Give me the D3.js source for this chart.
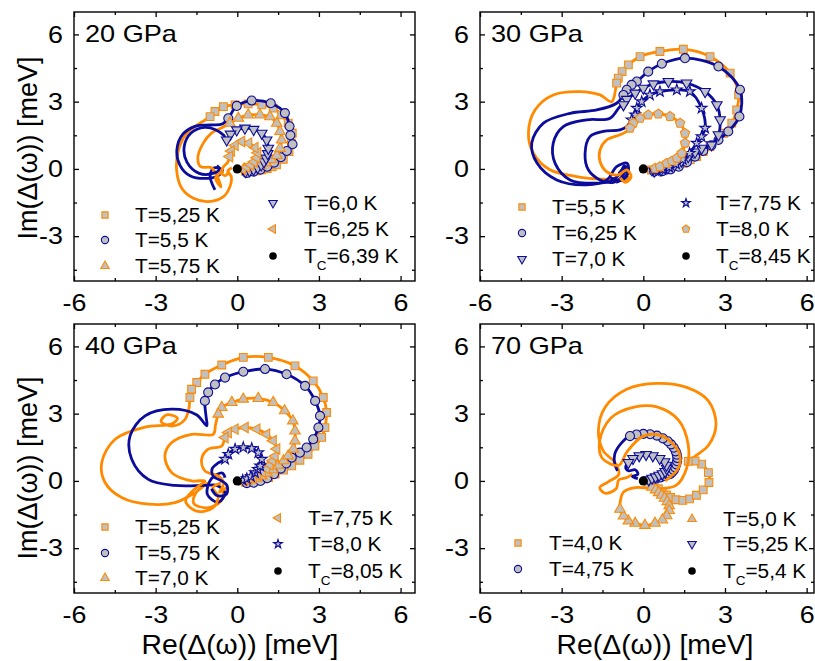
<!DOCTYPE html>
<html>
<head>
<meta charset="utf-8">
<script src="https://cdn.jsdelivr.net/npm/d3@7"></script>
<style>
  body { margin: 0; background: #fff; }
  svg { display: block; }
  text { font-family: "Liberation Sans", Arial, sans-serif; fill: #000; }
</style>
</head>
<body>
<div id="chart"></div>
<script>
// ---- data (Re, Im of the gap function, meV) ----
const xTicks = [-6, -3, 0, 3, 6];
const yTicks = [-3, 0, 3, 6];
const xMinor = [-4.5, -1.5, 1.5, 4.5];
const yMinor = [-4.5, -1.5, 1.5, 4.5];
const pressures = ["20 GPa", "30 GPa", "40 GPa", "70 GPa"];
const tcTemps = ["6,39 K", "8,45 K", "8,05 K", "5,4 K"];
const tcPoint = [0, 0];

// 20 GPa
const g20_525_marks = [[0.3,-0.1],[0.5,-0.1],[0.7,-0.08],[0.9,-0.04],[1.1,0.02],[1.28,0.09],[1.44,0.18],[1.69,0.43],[1.9,0.77],[1.99,1.15],[2.02,1.59],[1.87,2.04],[1.63,2.41],[1.32,2.71],[0.9,2.86],[0.4,2.9],[-0.08,2.86],[-0.51,2.78],[-0.82,2.56],[-1.0,2.33]];
const g20_525_tail = [[-1.37,2.04],[-1.86,1.59],[-2.16,0.85],[-2.23,-0.04],[-2.04,-0.86],[-1.61,-1.31],[-1.07,-1.46],[-0.51,-1.24],[-0.27,-0.79],[-0.22,-0.35],[-0.35,-0.1],[-0.2,0.05]];
const g20_55_marks = [[0.35,-0.18],[0.6,-0.12],[0.85,-0.03],[1.1,0.1],[1.35,0.28],[1.6,0.52],[1.82,0.8],[2.03,1.1],[1.95,1.5],[1.92,1.9],[1.75,2.49],[1.23,2.93],[0.53,3.05],[-0.02,2.81],[-0.33,2.26]];
const g20_55_tail = [[-0.55,2.0],[-1.0,1.96],[-1.55,1.9],[-2.0,1.55],[-2.22,0.85],[-2.1,0.15],[-1.74,-0.3],[-1.12,-0.42],[-0.7,-0.3],[-0.55,-0.05],[-0.85,0.05],[-1.0,-0.3],[-0.82,-0.94]];
const g20_575_marks = [[0.25,0.0],[0.45,0.03],[0.65,0.08],[0.85,0.16],[1.05,0.27],[1.25,0.42],[1.45,0.6],[1.57,0.92],[1.63,1.29],[1.57,1.67],[1.45,2.04],[1.2,2.33],[0.83,2.41],[0.4,2.41],[0.04,2.26],[-0.27,2.04]];
const g20_575_tail = [[-0.55,1.85],[-0.95,1.6],[-1.25,1.15],[-1.45,0.5],[-1.35,0.1],[-0.95,0.05],[-0.75,-0.3],[-0.6,-0.8],[-0.8,-0.4],[-0.5,-0.1]];
const g20_60_marks = [[0.3,-0.12],[0.45,-0.08],[0.6,-0.02],[0.75,0.07],[0.88,0.18],[0.98,0.32],[1.06,0.48],[1.12,0.68],[1.14,0.92],[1.08,1.29],[0.9,1.59],[0.6,1.76],[0.28,1.82],[-0.02,1.74],[-0.25,1.55],[-0.39,1.29]];
const g20_60_tail = [[-0.5,1.5],[-0.8,1.75],[-1.2,1.85],[-1.7,1.6],[-1.95,1.0],[-1.85,0.3],[-1.4,-0.2],[-0.9,-0.2],[-0.65,0.0],[-0.75,0.15]];
const g20_625_marks = [[0.2,0.0],[0.35,0.08],[0.5,0.18],[0.62,0.32],[0.72,0.5],[0.75,0.72],[0.65,0.95],[0.42,1.15],[0.16,1.22],[-0.08,1.05],[-0.22,0.8],[-0.28,0.55]];
const g20_625_tail = [[-0.35,0.3],[-0.5,0.1],[-0.6,-0.15],[-0.45,-0.3],[-0.3,-0.1]];

// 30 GPa
const g30_55_marks = [[0.3,-0.05],[0.49,-0.04],[0.73,0.0],[0.98,0.03],[1.22,0.12],[1.47,0.25],[1.72,0.4],[1.96,0.55],[2.2,0.77],[2.45,1.0],[2.94,1.59],[3.25,2.04],[3.43,2.63],[3.5,3.3],[3.19,4.27],[2.45,5.01],[1.47,5.34],[0.61,5.24],[-0.12,5.01],[-0.55,4.64],[-0.78,4.34],[-0.92,4.05],[-0.98,3.83]];
const g30_55_tail = [[-1.16,3.0],[-1.59,3.3],[-2.33,3.45],[-3.31,3.3],[-3.98,2.63],[-4.22,1.59],[-4.04,0.7],[-3.43,-0.04],[-2.45,-0.34],[-1.47,-0.46],[-0.85,-0.45],[-0.55,-0.2],[-0.6,0.1],[-0.8,-0.1],[-0.7,-0.55],[-0.5,-0.35]];
const g30_625_marks = [[0.4,-0.12],[0.7,-0.1],[1.0,-0.02],[1.3,0.1],[1.6,0.3],[1.9,0.55],[2.2,0.8],[2.5,1.05],[2.76,1.29],[3.12,1.67],[3.53,2.34],[3.55,3.53],[2.76,4.57],[1.53,4.94],[0.68,4.69],[0.18,4.34],[-0.24,3.9],[-0.43,3.75],[-0.61,3.53],[-0.73,3.3]];
const g30_625_tail = [[-0.98,2.93],[-1.71,2.63],[-2.69,2.48],[-3.67,2.04],[-4.1,1.15],[-3.9,0.25],[-3.18,-0.49],[-2.08,-0.71],[-1.35,-0.5],[-0.98,0.1],[-0.6,0.25],[-0.55,-0.1],[-0.8,-0.5],[-1.2,-0.4]];
const g30_70_marks = [[0.4,-0.1],[0.65,-0.05],[0.9,0.05],[1.15,0.18],[1.4,0.35],[1.65,0.55],[1.9,0.75],[2.14,0.92],[2.51,1.07],[2.76,1.52],[2.82,2.19],[2.7,2.86],[2.27,3.45],[1.59,3.83],[0.92,3.9],[0.37,3.79],[0.0,3.6],[-0.3,3.38],[-0.61,3.1],[-0.73,2.86]];
const g30_70_tail = [[-0.86,2.78],[-1.22,2.26],[-2.08,2.19],[-2.94,1.89],[-3.31,1.15],[-3.24,0.25],[-2.69,-0.49],[-1.77,-0.64],[-1.22,-0.55],[-0.85,-0.2],[-0.7,0.15],[-0.6,-0.3],[-1.0,-0.6]];
const g30_775_marks = [[0.45,-0.08],[0.7,-0.02],[0.95,0.08],[1.2,0.22],[1.45,0.42],[1.7,0.7],[1.96,1.15],[2.14,1.44],[2.27,1.82],[2.14,2.71],[1.71,3.45],[1.23,3.53],[0.61,3.45],[0.24,3.3],[-0.06,3.0],[-0.24,2.71],[-0.3,2.41],[-0.43,2.19]];
const g30_775_tail = [[-0.61,1.89],[-0.86,1.74],[-1.47,1.67],[-1.96,1.44],[-2.14,0.7],[-2.02,-0.04],[-1.59,-0.49],[-1.1,-0.6],[-0.75,-0.3],[-0.65,0.1],[-0.9,-0.2]];
const g30_80_marks = [[0.43,0.03],[0.61,0.1],[0.86,0.25],[1.05,0.35],[1.23,0.48],[1.41,0.7],[1.53,1.15],[1.53,1.59],[1.35,2.04],[0.98,2.34],[0.55,2.45],[0.18,2.41],[-0.12,2.26],[-0.37,2.04],[-0.49,1.82]];
const g30_80_tail = [[-0.61,1.67],[-0.86,1.52],[-1.35,1.29],[-1.59,0.85],[-1.59,0.33],[-1.35,-0.12],[-0.92,-0.27],[-0.61,-0.04],[-0.45,-0.35],[-0.65,-0.6],[-0.85,-0.4]];

// 40 GPa
const g40_525_marks = [[0.3,-0.05],[0.53,0.0],[0.75,0.03],[0.95,0.08],[1.15,0.15],[1.39,0.3],[1.7,0.48],[2.0,0.67],[2.3,0.92],[2.6,1.19],[2.85,1.55],[3.1,1.94],[3.22,2.38],[3.28,3.05],[3.16,3.72],[2.79,4.46],[2.12,5.13],[1.14,5.51],[0.22,5.51],[-0.57,5.17],[-1.19,4.76],[-1.49,4.39],[-1.68,4.09],[-1.74,3.72]];
const g40_525_tail = [[-1.78,3.2],[-1.95,2.7],[-2.4,2.45],[-2.8,2.65],[-2.6,2.95],[-2.2,2.8],[-2.4,2.55],[-3.39,2.4],[-4.49,1.86],[-4.98,0.82],[-4.86,-0.07],[-4.25,-0.74],[-3.27,-1.04],[-2.29,-0.97],[-1.55,-0.52],[-1.1,-0.1],[-1.5,-0.5],[-1.6,-1.0],[-1.1,-1.2],[-0.6,-0.9],[-0.5,-0.4]];
const g40_575_marks = [[0.35,-0.1],[0.6,-0.08],[0.85,0.0],[1.1,0.12],[1.35,0.3],[1.6,0.55],[1.8,0.78],[2.0,1.04],[2.3,1.26],[2.55,1.49],[2.79,1.86],[2.98,2.38],[3.04,2.9],[2.86,3.57],[2.49,4.24],[1.81,4.76],[1.02,4.99],[0.22,4.87],[-0.45,4.61],[-0.82,4.3],[-1.07,3.95],[-1.19,3.57]];
const g40_575_tail = [[-1.15,2.9],[-1.12,2.46],[-1.5,2.95],[-2.41,3.2],[-3.39,2.9],[-3.94,2.01],[-3.88,0.97],[-3.27,0.07],[-2.29,-0.2],[-1.19,-0.2],[-0.75,-0.2],[-0.45,-0.55],[-0.7,-0.95],[-1.1,-0.6],[-0.95,0.1],[-0.55,0.35],[-0.45,0.15]];
const g40_70_marks = [[0.3,0.0],[0.5,0.05],[0.7,0.12],[0.9,0.22],[1.1,0.35],[1.3,0.5],[1.5,0.7],[1.7,0.9],[1.87,1.12],[2.06,1.42],[2.12,1.79],[2.12,2.23],[2.04,2.68],[1.74,3.13],[1.32,3.5],[0.77,3.68],[0.22,3.65],[-0.2,3.5],[-0.57,3.28],[-0.7,2.98]];
const g40_70_tail = [[-0.8,2.5],[-0.88,2.08],[-1.68,2.08],[-2.41,1.71],[-2.66,1.12],[-2.41,0.37],[-1.68,0.0],[-1.19,0.0],[-1.6,-0.4],[-1.9,-0.9],[-1.5,-1.35],[-0.9,-1.2],[-0.7,-0.7],[-0.9,-0.3],[-0.6,-0.1]];
const g40_775_marks = [[0.25,0.02],[0.42,0.08],[0.58,0.16],[0.75,0.27],[0.92,0.4],[1.08,0.55],[1.2,0.72],[1.3,0.9],[1.39,1.1],[1.45,1.42],[1.32,1.79],[1.08,2.08],[0.72,2.31],[0.29,2.38],[-0.08,2.31],[-0.33,2.16],[-0.45,1.94]];
const g40_775_tail = [[-0.57,1.56],[-1.07,1.42],[-1.31,0.97],[-1.19,0.45],[-0.7,0.22],[-0.5,-0.1],[-0.65,-0.5],[-0.4,-0.3]];
const g40_80_marks = [[0.2,0.03],[0.35,0.1],[0.5,0.2],[0.65,0.37],[0.75,0.52],[0.84,0.67],[0.9,0.97],[0.77,1.26],[0.53,1.45],[0.22,1.49],[-0.08,1.42],[-0.33,1.19],[-0.45,0.97]];
const g40_80_tail = [[-0.7,0.8],[-0.92,0.55],[-0.88,0.2],[-0.6,0.02],[-0.38,-0.2],[-0.4,-0.6],[-0.75,-0.65],[-0.95,-0.35]];

// 70 GPa
const g70_40_marks = [[0.25,-0.1],[0.4,-0.22],[0.55,-0.35],[0.7,-0.5],[0.85,-0.63],[1.0,-0.74],[1.2,-0.84],[1.45,-0.87],[1.7,-0.8],[1.95,-0.64],[2.2,-0.4],[2.41,-0.07],[2.39,0.37],[2.14,0.75],[1.9,0.89],[1.65,0.87]];
const g70_40_tail = [[1.9,1.1],[2.4,1.6],[2.67,2.53],[2.39,3.57],[1.59,4.17],[0.49,4.35],[-0.61,4.09],[-1.41,3.28],[-1.65,2.23],[-1.47,1.34],[-1.04,0.82],[-0.9,0.3],[-1.3,-0.05],[-1.6,-0.3],[-1.4,-0.55],[-1.0,-0.35],[-0.9,0.05],[-0.6,0.15],[-0.4,0.3]];
const g70_475_marks = [[0.25,0.05],[0.45,0.1],[0.62,0.15],[0.78,0.22],[0.9,0.28],[0.98,0.3],[1.05,0.38],[1.12,0.48],[1.17,0.6],[1.21,0.74],[1.24,0.88],[1.25,1.02],[1.23,1.17],[1.19,1.32],[1.12,1.48],[1.02,1.63],[0.9,1.77],[0.72,1.9],[0.5,2.02],[0.25,2.08],[0.0,2.1],[-0.25,2.07],[-0.49,2.0]];
const g70_475_tail = [[-0.8,1.7],[-1.05,1.2],[-1.05,0.75],[-0.95,0.45]];
const g70_50_marks = [[0.2,-0.15],[0.32,-0.28],[0.45,-0.4],[0.56,-0.52],[0.67,-0.64],[0.78,-0.77],[0.88,-0.92],[0.95,-1.1],[0.95,-1.32],[0.86,-1.55],[0.7,-1.74],[0.43,-1.89],[0.06,-1.98],[-0.3,-1.89],[-0.55,-1.78],[-0.73,-1.56],[-0.86,-1.26]];
const g70_50_tail = [[-0.85,-0.95],[-0.73,-0.5],[-0.3,-0.3],[0.5,-0.35],[1.2,-0.2],[1.6,0.6],[1.65,1.6],[1.3,2.7],[0.5,3.3],[-0.3,3.3],[-1.2,2.8],[-1.6,1.8],[-1.5,1.0],[-0.9,0.7],[-0.6,1.3],[0.0,2.0],[0.7,2.0],[1.3,1.3],[1.3,0.6],[0.8,0.0]];
const g70_525_marks = [[0.2,0.05],[0.32,0.12],[0.45,0.18],[0.58,0.25],[0.7,0.32],[0.8,0.42],[0.86,0.55],[0.85,0.7],[0.78,0.85],[0.6,1.0],[0.35,1.12],[0.1,1.18],[-0.15,1.12],[-0.38,1.0],[-0.55,0.82]];
const g70_525_tail = [[-0.65,0.62],[-0.55,0.45],[-0.3,0.5],[-0.2,0.3],[-0.4,0.2],[-0.2,0.1]];

// ---- styling ----
const ORANGE = "#ff8a00", BLUE = "#0c0c9c", GREY = "#c0c0c0";
const TICK_STRETCH = 1.12, LEGEND_STRETCH = 1.04;

const pentagon = {
  draw(ctx, size) {
    const r = Math.sqrt(size / 2.38);
    for (let i = 0; i < 5; i++) {
      const a = -Math.PI / 2 + i * 2 * Math.PI / 5;
      const px = r * Math.cos(a), py = r * Math.sin(a);
      if (i) ctx.lineTo(px, py); else ctx.moveTo(px, py);
    }
    ctx.closePath();
  }
};
const shapes = {
  square:  { type: d3.symbolSquare,   rot: 0,   size: 60 },
  circle:  { type: d3.symbolCircle,   rot: 0,   size: 64 },
  triUp:   { type: d3.symbolTriangle, rot: 0,   size: 48 },
  triDown: { type: d3.symbolTriangle, rot: 180, size: 48 },
  triLeft: { type: d3.symbolTriangle, rot: -90, size: 48 },
  star:    { type: d3.symbolStar,     rot: 0,   size: 36 },
  pent:    { type: pentagon,          rot: 0,   size: 58 }
};

const S = (label, color, shape, marks, tail) => ({ label, color, shape, marks, tail });
const seriesSets = [
  [S("T=5,25 K", ORANGE, "square", g20_525_marks, g20_525_tail),
   S("T=5,5 K", BLUE, "circle", g20_55_marks, g20_55_tail),
   S("T=5,75 K", ORANGE, "triUp", g20_575_marks, g20_575_tail),
   S("T=6,0 K", BLUE, "triDown", g20_60_marks, g20_60_tail),
   S("T=6,25 K", ORANGE, "triLeft", g20_625_marks, g20_625_tail)],
  [S("T=5,5 K", ORANGE, "square", g30_55_marks, g30_55_tail),
   S("T=6,25 K", BLUE, "circle", g30_625_marks, g30_625_tail),
   S("T=7,0 K", BLUE, "triDown", g30_70_marks, g30_70_tail),
   S("T=7,75 K", BLUE, "star", g30_775_marks, g30_775_tail),
   S("T=8,0 K", ORANGE, "pent", g30_80_marks, g30_80_tail)],
  [S("T=5,25 K", ORANGE, "square", g40_525_marks, g40_525_tail),
   S("T=5,75 K", BLUE, "circle", g40_575_marks, g40_575_tail),
   S("T=7,0 K", ORANGE, "triUp", g40_70_marks, g40_70_tail),
   S("T=7,75 K", ORANGE, "triLeft", g40_775_marks, g40_775_tail),
   S("T=8,0 K", BLUE, "star", g40_80_marks, g40_80_tail)],
  [S("T=4,0 K", ORANGE, "square", g70_40_marks, g70_40_tail),
   S("T=4,75 K", BLUE, "circle", g70_475_marks, g70_475_tail),
   S("T=5,0 K", ORANGE, "triUp", g70_50_marks, g70_50_tail),
   S("T=5,25 K", BLUE, "triDown", g70_525_marks, g70_525_tail)]
];

// panel frames and legend slots (pixels)
const frames = [
  { l: 74,  r: 415, t: 12,  b: 281, xmax: 6.53 },
  { l: 480, r: 814, t: 12,  b: 281, xmax: 6.27 },
  { l: 74,  r: 415, t: 324, b: 593, xmax: 6.53 },
  { l: 480, r: 814, t: 324, b: 593, xmax: 6.27 }
];
const legendSlots = [
  { cols: [{ mx: 105, tx: 135, ys: [215, 240, 266] }, { mx: 273, tx: 304, ys: [203, 229, 256] }], split: 3 },
  { cols: [{ mx: 522, tx: 552, ys: [207, 233, 259] }, { mx: 686, tx: 716, ys: [203, 229, 256] }], split: 3 },
  { cols: [{ mx: 105, tx: 135, ys: [527, 553, 578] }, { mx: 278, tx: 308, ys: [518, 544, 571] }], split: 3 },
  { cols: [{ mx: 518, tx: 549, ys: [543, 569] }, { mx: 692, tx: 723, ys: [519, 544, 571] }], split: 2 }
];

const W = 815, H = 661;
const svg = d3.select("#chart").append("svg").attr("width", W).attr("height", H);

// widen text glyphs around their anchor point
function stretch(sel, k) {
  sel.each(function () {
    const t = d3.select(this);
    const x = +t.attr("x") || 0, y = +t.attr("y") || 0;
    t.attr("x", 0).attr("y", 0).attr("transform", `translate(${x},${y}) scale(${k},1)`);
  });
}

function marker(sel, shape, color, scale) {
  const s = shapes[shape];
  sel.attr("d", d3.symbol().type(s.type).size(s.size * scale))
    .attr("fill", GREY)
    .attr("stroke", color)
    .attr("stroke-width", 1.1);
}

frames.forEach((f, pi) => {
  const x = d3.scaleLinear().domain([-6, f.xmax]).range([f.l, f.r]);
  const y = d3.scaleLinear().domain([-5, 7]).range([f.b, f.t]);
  const g = svg.append("g");

  const line = d3.line().x(d => x(d[0])).y(d => y(d[1])).curve(d3.curveCatmullRom.alpha(0.5));

  seriesSets[pi].forEach(s => {
    g.append("path")
      .attr("d", line(s.marks.concat(s.tail)))
      .attr("fill", "none")
      .attr("stroke", s.color)
      .attr("stroke-width", 2.8)
      .attr("stroke-linejoin", "round");
    const rot = shapes[s.shape].rot;
    g.append("g").selectAll("path").data(s.marks).join("path")
      .call(sel => marker(sel, s.shape, s.color, 1))
      .attr("transform", d => `translate(${x(d[0])},${y(d[1])}) rotate(${rot})`);
  });

  g.append("circle")
    .attr("cx", x(tcPoint[0])).attr("cy", y(tcPoint[1])).attr("r", 4.6)
    .attr("fill", "#000");

  // axes, ticks pointing inward
  const fmt = d => String(d);
  const ax = [
    { a: d3.axisBottom(x), pos: `translate(0,${f.b})`, vals: xTicks, minor: xMinor, label: true, pad: 13 },
    { a: d3.axisTop(x), pos: `translate(0,${f.t})`, vals: xTicks, minor: xMinor, label: false, pad: 3 },
    { a: d3.axisLeft(y), pos: `translate(${f.l},0)`, vals: yTicks, minor: yMinor, label: true, pad: 11 },
    { a: d3.axisRight(y), pos: `translate(${f.r},0)`, vals: yTicks, minor: yMinor, label: false, pad: 3 }
  ];
  ax.forEach(o => {
    const major = svg.append("g").attr("transform", o.pos)
      .call(o.a.tickValues(o.vals).tickSize(-5).tickPadding(o.pad)
        .tickFormat(o.label ? fmt : () => ""));
    major.select(".domain").remove();
    major.selectAll("line").attr("stroke", "#000").attr("stroke-width", 1.3);
    major.selectAll("text").attr("font-size", 24).attr("font-family", "Liberation Sans, Arial, sans-serif").attr("fill", "#000");
    if (o.label) stretch(major.selectAll("text"), TICK_STRETCH);
    const minor = svg.append("g").attr("transform", o.pos)
      .call(o.a.tickValues(o.minor).tickSize(-3).tickFormat(() => ""));
    minor.select(".domain").remove();
    minor.selectAll("line").attr("stroke", "#000").attr("stroke-width", 1.3);
  });

  svg.append("rect")
    .attr("x", f.l).attr("y", f.t).attr("width", f.r - f.l).attr("height", f.b - f.t)
    .attr("fill", "none").attr("stroke", "#000").attr("stroke-width", 1.4);

  svg.append("text")
    .attr("x", f.l + 11).attr("y", f.t + 30)
    .attr("font-size", 24)
    .text(pressures[pi])
    .call(sel => stretch(sel, 1.13));

  // legend
  const slot = legendSlots[pi];
  const entries = seriesSets[pi].map(s => ({ s }));
  entries.push({ tc: tcTemps[pi] });
  entries.forEach((e, i) => {
    const col = i < slot.split ? slot.cols[0] : slot.cols[1];
    const row = i < slot.split ? i : i - slot.split;
    const cy = col.ys[row];
    if (e.s) {
      const rot = shapes[e.s.shape].rot;
      svg.append("path")
        .call(sel => marker(sel, e.s.shape, e.s.color, 0.65))
        .attr("transform", `translate(${col.mx},${cy}) rotate(${rot})`);
      svg.append("text").attr("x", col.tx).attr("y", cy + 7).attr("font-size", 20).text(e.s.label)
        .call(sel => stretch(sel, LEGEND_STRETCH));
    } else {
      svg.append("circle").attr("cx", col.mx).attr("cy", cy).attr("r", 3.8).attr("fill", "#000");
      const t = svg.append("text").attr("x", col.tx).attr("y", cy + 7).attr("font-size", 20);
      t.append("tspan").text("T");
      t.append("tspan").attr("font-size", 13).attr("dy", 7).text("C");
      t.append("tspan").attr("dy", -7).text("=" + e.tc);
      stretch(t, LEGEND_STRETCH);
    }
  });
});

// axis titles
svg.append("text")
  .attr("transform", "translate(37,148) rotate(-90)")
  .attr("text-anchor", "middle").attr("font-size", 27)
  .text("Im(Δ(ω)) [meV]");
svg.append("text")
  .attr("transform", "translate(37,468) rotate(-90)")
  .attr("text-anchor", "middle").attr("font-size", 27)
  .text("Im(Δ(ω)) [meV]");
svg.append("text")
  .attr("x", 240).attr("y", 654)
  .attr("text-anchor", "middle").attr("font-size", 27)
  .text("Re(Δ(ω)) [meV]")
  .call(sel => stretch(sel, 1.05));
svg.append("text")
  .attr("x", 655).attr("y", 654)
  .attr("text-anchor", "middle").attr("font-size", 27)
  .text("Re(Δ(ω)) [meV]")
  .call(sel => stretch(sel, 1.05));
</script>
</body>
</html>
